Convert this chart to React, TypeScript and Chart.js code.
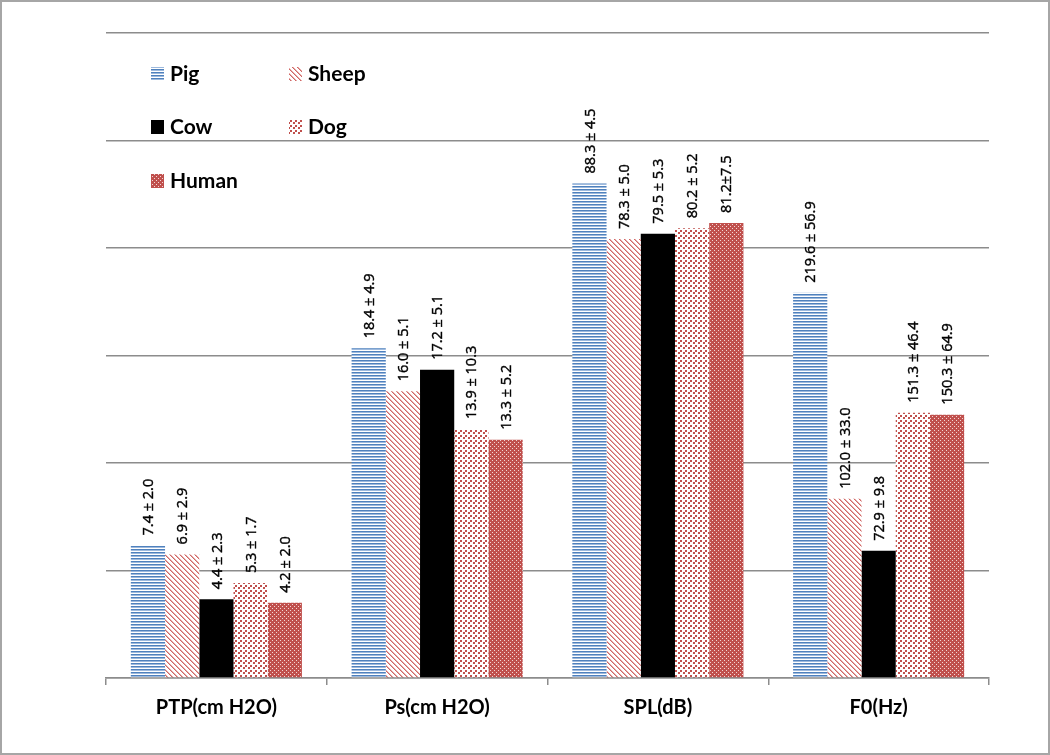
import React, { useEffect, useRef } from 'react';
import { Chart, registerables } from 'chart.js';

Chart.register(...registerables);

// categories on the x axis
const categories = ['PTP(cm H2O)', 'Ps(cm H2O)', 'SPL(dB)', 'F0(Hz)'];
const seriesNames = ['Pig', 'Sheep', 'Cow', 'Dog', 'Human'];

// bar heights as drawn (hidden y axis, 0..36, grid every 6)
const pigValues = [7.4, 18.4, 27.6, 21.5];
const sheepValues = [6.9, 16.0, 24.5, 10.0];
const cowValues = [4.4, 17.2, 24.8, 7.1];
const dogValues = [5.3, 13.9, 25.1, 14.8];
const humanValues = [4.2, 13.3, 25.4, 14.7];

// mean ± sd printed above each bar
const pigLabels = ['7.4 ± 2.0', '18.4 ± 4.9', '88.3 ± 4.5', '219.6 ± 56.9'];
const sheepLabels = ['6.9 ± 2.9', '16.0 ± 5.1', '78.3 ± 5.0', '102.0 ± 33.0'];
const cowLabels = ['4.4 ± 2.3', '17.2 ± 5.1', '79.5 ± 5.3', '72.9 ± 9.8'];
const dogLabels = ['5.3 ± 1.7', '13.9 ± 10.3', '80.2 ± 5.2', '151.3 ± 46.4'];
const humanLabels = ['4.2 ± 2.0', '13.3 ± 5.2', '81.2±7.5', '150.3 ± 64.9'];

const yMin = 0;
const yMax = 36;
const yStep = 6;

const BLUE = '#4f81bd';
const RED = '#c0504d';
const FONT = 'Lato, "Open Sans", sans-serif';

function makePattern(ctx: CanvasRenderingContext2D, w: number, h: number, draw: (c: CanvasRenderingContext2D) => void) {
  const tile = document.createElement('canvas');
  tile.width = w;
  tile.height = h;
  const c = tile.getContext('2d')!;
  draw(c);
  return ctx.createPattern(tile, 'repeat') as CanvasPattern;
}

function buildFills(ctx: CanvasRenderingContext2D) {
  const pig = makePattern(ctx, 1, 3, (c) => {
    c.fillStyle = BLUE;
    c.fillRect(0, 0, 1, 1);
    c.fillStyle = '#9db9dd';
    c.fillRect(0, 1, 1, 1);
    c.fillStyle = '#ffffff';
    c.fillRect(0, 2, 1, 1);
  });
  const sheep = makePattern(ctx, 5, 5, (c) => {
    c.fillStyle = '#ffffff';
    c.fillRect(0, 0, 5, 5);
    for (let i = 0; i < 5; i++) {
      c.fillStyle = '#cf6865';
      c.fillRect(i, i, 1, 1);
      c.fillStyle = '#e8aaa9';
      c.fillRect((i + 1) % 5, i, 1, 1);
    }
  });
  const cow = '#000000';
  const dog = makePattern(ctx, 5, 5, (c) => {
    c.fillStyle = '#ffffff';
    c.fillRect(0, 0, 5, 5);
    c.fillStyle = RED;
    c.fillRect(0, 0, 2, 2);
    c.fillRect(3, 2, 2, 2);
  });
  const human = makePattern(ctx, 4, 4, (c) => {
    c.fillStyle = RED;
    c.fillRect(0, 0, 4, 4);
    c.fillStyle = '#f3d6d5';
    c.fillRect(0, 0, 1, 1);
    c.fillRect(2, 2, 1, 1);
  });
  return [pig, sheep, cow, dog, human];
}

const App: React.FC = () => {
  const chartRef = useRef<HTMLCanvasElement>(null);

  useEffect(() => {
    document.body.style.margin = '0';
    if (!chartRef.current) return;
    const ctx0 = chartRef.current.getContext('2d')!;
    const fills = buildFills(ctx0);
    const values = [pigValues, sheepValues, cowValues, dogValues, humanValues];
    const labels = [pigLabels, sheepLabels, cowLabels, dogLabels, humanLabels];

    const valueLabels = {
      id: 'valueLabels',
      afterDatasetsDraw(chart: any) {
        const ctx = chart.ctx;
        ctx.save();
        ctx.font = '14.5px "Open Sans", sans-serif';
        ctx.fillStyle = '#000';
        ctx.strokeStyle = '#000';
        ctx.lineWidth = 0.4;
        ctx.textAlign = 'left';
        ctx.textBaseline = 'middle';
        chart.data.datasets.forEach((_: any, di: number) => {
          chart.getDatasetMeta(di).data.forEach((bar: any, i: number) => {
            ctx.save();
            ctx.translate(bar.x + 1, bar.y - 10);
            ctx.rotate(-Math.PI / 2);
            ctx.fillText(labels[di][i], 0, 0);
            ctx.strokeText(labels[di][i], 0, 0);
            ctx.restore();
          });
        });
        ctx.restore();
      },
    };

    const legendBox = {
      id: 'legendBox',
      afterDraw(chart: any) {
        const ctx = chart.ctx;
        const spots = [
          [151, 74], [289, 74], [151, 127], [289, 127], [151, 181],
        ];
        ctx.save();
        ctx.font = `bold 21px ${FONT}`;
        ctx.textBaseline = 'middle';
        ctx.textAlign = 'left';
        seriesNames.forEach((name, i) => {
          const [x, y] = spots[i];
          ctx.fillStyle = fills[i];
          ctx.fillRect(x, y - 7, 13, 14);
          ctx.fillStyle = '#000';
          ctx.fillText(name, x + 19, y);
        });
        // frame round the picture
        ctx.strokeStyle = '#a6a6a6';
        ctx.lineWidth = 2;
        ctx.strokeRect(1, 1, chart.width - 2, chart.height - 2);
        ctx.restore();
      },
    };

    const myChart = new Chart(chartRef.current, {
      type: 'bar',
      data: {
        labels: categories,
        datasets: seriesNames.map((name, i) => ({
          label: name,
          data: values[i],
          backgroundColor: fills[i] as any,
          borderWidth: 0,
          categoryPercentage: 0.775,
          barPercentage: 1,
        })),
      },
      options: {
        responsive: false,
        animation: false,
        layout: { padding: { left: 106, right: 61, top: 33, bottom: 0 } },
        scales: {
          x: {
            grid: {
              drawOnChartArea: false,
              drawTicks: true,
              tickLength: 7,
              color: '#8c8c8c',
              lineWidth: 1.5,
            },
            border: { display: true, color: '#8c8c8c', width: 1.5 },
            ticks: {
              color: '#000',
              font: { family: FONT, size: 20, weight: 'bold' },
              padding: 11,
              maxRotation: 0,
            },
            afterFit: (scale: any) => {
              scale.height = 77;
            },
          },
          y: {
            min: yMin,
            max: yMax,
            ticks: { display: false, stepSize: yStep },
            grid: { color: '#8c8c8c', lineWidth: 1.5, drawTicks: false },
            border: { display: false },
            afterFit: (scale: any) => {
              scale.width = 0;
            },
          },
        },
        plugins: {
          legend: { display: false },
          tooltip: { enabled: false },
        },
      },
      plugins: [valueLabels, legendBox],
    });

    return () => {
      myChart.destroy();
    };
  }, []);

  return (
    <div style={{ width: 1050, height: 755, background: '#fff' }}>
      <canvas ref={chartRef} width={1050} height={755} />
    </div>
  );
};

export default App;
